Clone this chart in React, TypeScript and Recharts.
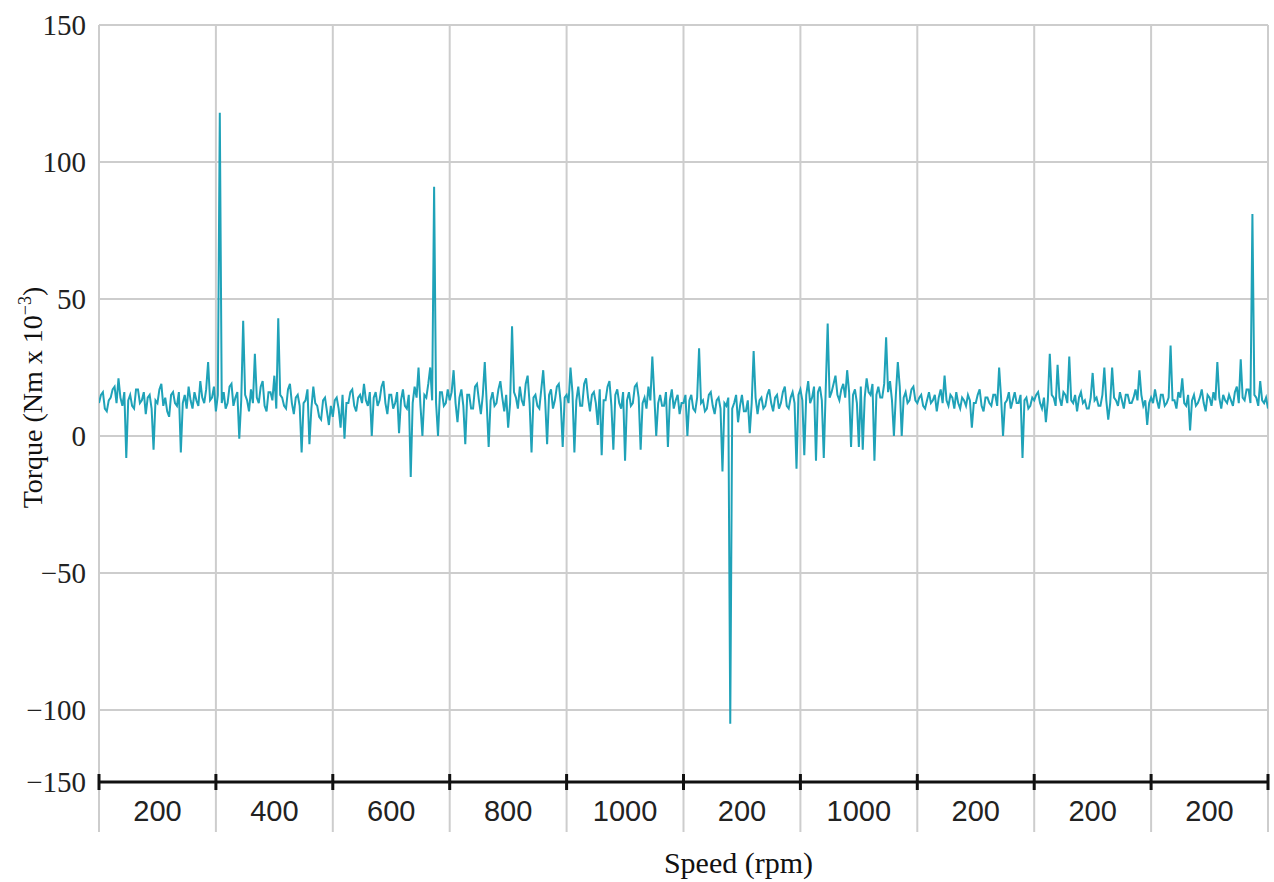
import React from 'react';
import { LineChart, Line, XAxis, YAxis, CartesianGrid, Label } from 'recharts';

// Torque readings (Nm x 10^-3), 601 samples across 10 speed bands (60 samples per band)
const TORQUE: number[] = [
  12, 15, 16, 10, 9, 13, 14, 17, 18, 12, 21, 14, 11, 16, -8, 13, 15, 11, 10, 17,
  17, 12, 13, 16, 8, 14, 15, 10, -5, 13, 12, 17, 19, 11, 14, 9, 7, 15, 16, 12,
  11, 16, -6, 12, 15, 10, 18, 13, 10, 16, 13, 11, 20, 14, 12, 17, 27, 13, 14, 18,
  9, 15, 118, 12, 16, 10, 12, 18, 19, 11, 14, 16, -1, 13, 42, 15, 13, 9, 17, 12,
  30, 14, 12, 18, 20, 11, 9, 16, 16, 13, 22, 10, 43, 15, 14, 11, 10, 17, 19, 12,
  8, 14, 15, 11, -6, 12, 13, 17, -3, 10, 18, 12, 11, 7, 6, 13, 14, 9, 4, 11,
  7, 13, 14, 10, 3, 15, -1, 12, 12, 16, 17, 11, 9, 14, 15, 12, 19, 13, 11, 16,
  0, 14, 16, 11, 13, 18, 20, 12, 8, 15, 15, 10, 12, 16, 1, 13, 17, 11, 10, 15,
  -15, 12, 18, 14, 25, 11, 0, 15, 14, 19, 25, 13, 91, 12, 0, 16, 16, 11, 12, 17,
  13, 16, 24, 12, 5, 14, 17, 11, -3, 15, 15, 10, 10, 18, 19, 13, 8, 15, 27, 12,
  -4, 13, 16, 11, 12, 17, 20, 14, 9, 15, 3, 12, 40, 16, 14, 10, 18, 13, 11, 19,
  22, 12, -6, 14, 15, 11, 10, 17, 24, 13, -3, 15, 17, 10, 13, 18, 19, 12, -4, 14,
  15, 12, 25, 16, -6, 13, 18, 11, 11, 19, 21, 14, 9, 15, 16, 12, 4, 17, -7, 13,
  13, 18, 20, 11, -5, 15, 17, 12, 10, 16, -9, 13, 16, 11, 12, 18, 19, 14, -5, 12,
  14, 10, 18, 13, 29, 15, 0, 12, 15, 11, 11, 16, -4, 13, 17, 10, 13, 15, 8, 12,
  12, 15, 0, 13, 15, 10, 9, 14, 32, 12, 13, 9, 10, 15, 16, 11, 8, 13, 14, 10,
  -13, 12, 11, 14, -105, 10, 12, 15, 5, 11, 15, 9, 9, 13, 1, 12, 31, 14, 8, 13,
  14, 10, 11, 15, 17, 12, 9, 14, 15, 10, 12, 16, 18, 11, 10, 14, 16, 12, -12, 15,
  17, 13, -7, 15, 20, 12, 14, 18, -9, 16, 18, 13, -8, 17, 41, 14, 16, 19, 22, 15,
  13, 17, 19, 14, 24, 16, -4, 15, 17, 12, -4, 18, -5, 14, 21, 16, 15, 19, -9, 15,
  18, 14, 14, 19, 36, 16, 20, 13, 0, 15, 27, 18, 0, 14, 16, 12, 13, 17, 18, 13,
  12, 14, 15, 11, 10, 13, 16, 12, 13, 15, 9, 14, 17, 12, 22, 13, 11, 15, 14, 10,
  16, 12, 10, 14, 13, 11, 15, 13, 3, 12, 12, 15, 17, 11, 9, 14, 14, 12, 11, 15,
  15, 11, 25, 14, 0, 12, 13, 16, 10, 13, 16, 12, 12, 15, -8, 13, 14, 10, 11, 14,
  13, 15, 16, 12, 10, 14, 5, 13, 30, 15, 14, 11, 26, 14, 11, 16, 15, 12, 29, 13,
  12, 15, 9, 14, 16, 12, 13, 10, 10, 14, 23, 13, 14, 11, 11, 15, 25, 13, 6, 12,
  25, 14, 13, 11, 16, 13, 10, 15, 15, 12, 12, 14, 17, 13, 24, 15, 11, 13, 4, 12,
  14, 12, 17, 13, 10, 15, 15, 11, 12, 14, 33, 13, 13, 10, 16, 14, 21, 12, 11, 15,
  2, 13, 15, 11, 12, 14, 17, 12, 9, 15, 14, 11, 16, 13, 27, 14, 10, 15, 13, 12,
  15, 13, 11, 16, 18, 12, 28, 14, 13, 17, 17, 12, 81, 15, 14, 11, 20, 13, 12, 14, 10,
];

// Speed band labels (rpm), one per band
const BAND_LABELS: string[] = ['200', '400', '600', '800', '1000', '200', '1000', '200', '200', '200'];
const BAND_SIZE = 60;
const BOUNDARY_TICKS: number[] = [0, 60, 120, 180, 240, 300, 360, 420, 480, 540, 600];
const CENTER_TICKS: number[] = [30, 90, 150, 210, 270, 330, 390, 450, 510, 570];
const X_TICKS: number[] = [...BOUNDARY_TICKS, ...CENTER_TICKS].sort((a, b) => a - b);

// Y axis: bottom tick is labelled -150 in the original although it sits at the axis line
const Y_TICKS: number[] = [-126.3, -100, -50, 0, 50, 100, 150];
const Y_TICK_LABELS: string[] = ['\u2212150', '\u2212100', '\u221250', '0', '50', '100', '150'];

const data = TORQUE.map((v, i) => ({ i, torque: v }));

const XTick = (props: any) => {
  const { x, y, payload } = props;
  const v = payload.value as number;
  if (v % BAND_SIZE === 0) {
    return (
      <g>
        <line x1={x} x2={x} y1={y} y2={y + 50} stroke="#cdcdcd" strokeWidth={2} />
        <line x1={x} x2={x} y1={y - 8} y2={y + 8} stroke="#111" strokeWidth={3} />
      </g>
    );
  }
  const idx = Math.floor(v / BAND_SIZE);
  return (
    <text
      x={x}
      y={y + 29}
      textAnchor="middle"
      dominantBaseline="central"
      fontFamily="'Liberation Sans', Arial, sans-serif"
      fontSize={29}
      fill="#222"
    >
      {BAND_LABELS[idx]}
    </text>
  );
};

const XTitle = (props: any) => {
  const { viewBox } = props;
  const cx = viewBox.x + viewBox.width / 2 + 55;
  const cy = viewBox.y + 80;
  return (
    <text
      x={cx}
      y={cy}
      textAnchor="middle"
      dominantBaseline="central"
      fontFamily="'Liberation Serif', serif"
      fontSize={30}
      fill="#111"
    >
      Speed (rpm)
    </text>
  );
};

const YTitle = (props: any) => {
  const { viewBox } = props;
  const bx = viewBox.x + 42;
  const cy = viewBox.y + viewBox.height / 2 - 6;
  return (
    <text
      transform={`translate(${bx}, ${cy}) rotate(-90)`}
      textAnchor="middle"
      fontFamily="'Liberation Serif', serif"
      fontSize={28}
      fill="#111"
    >
      Torque (Nm x 10
      <tspan dy={-11} fontSize={18}>{'\u22123'}</tspan>
      <tspan dy={11}>)</tspan>
    </text>
  );
};

export default function App() {
  return (
    <div style={{ position: 'absolute', left: 0, top: 0, width: 1274, height: 882, background: '#fff' }}>
      <LineChart width={1274} height={882} data={data} margin={{ top: 25, right: 6, bottom: 0, left: 0 }}>
        <CartesianGrid stroke="#cdcdcd" strokeWidth={2} verticalValues={BOUNDARY_TICKS} />
        <XAxis
          dataKey="i"
          type="number"
          domain={[0, 600]}
          ticks={X_TICKS}
          interval={0}
          tick={<XTick />}
          tickLine={false}
          tickSize={0}
          tickMargin={0}
          axisLine={{ stroke: '#111', strokeWidth: 3 }}
          height={100}
          allowDataOverflow
        >
          <Label content={XTitle} />
        </XAxis>
        <YAxis
          type="number"
          domain={[-126.3, 150]}
          ticks={Y_TICKS}
          interval={0}
          allowDataOverflow
          tickFormatter={(v: number) => Y_TICK_LABELS[Y_TICKS.indexOf(v)]}
          axisLine={false}
          tickLine={false}
          tickMargin={7}
          width={99}
          tick={{ fontFamily: "'Liberation Serif', serif", fontSize: 29, fill: '#222' }}
        >
          <Label content={YTitle} />
        </YAxis>
        <Line
          type="linear"
          dataKey="torque"
          stroke="#1fa2b8"
          strokeWidth={2}
          dot={false}
          isAnimationActive={false}
        />
      </LineChart>
    </div>
  );
}
